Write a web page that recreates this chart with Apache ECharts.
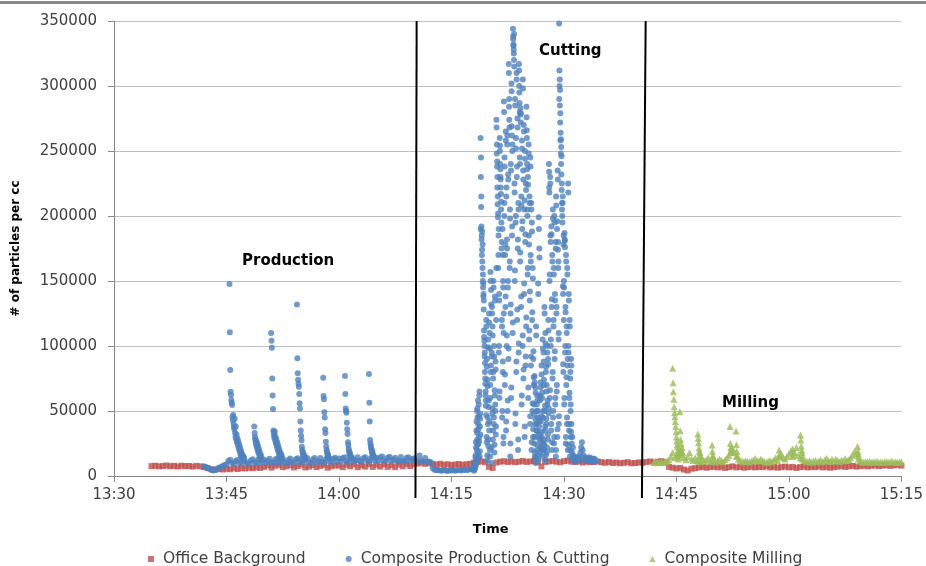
<!DOCTYPE html>
<html><head><meta charset="utf-8">
<script src="https://cdn.jsdelivr.net/npm/echarts@6/dist/echarts.min.js"></script>
<style>html,body{margin:0;padding:0;background:#fff}#c{width:926px;height:566px}</style>
</head><body><div id="c"></div>
<script>
// Times are minutes after midnight (810 = 13:30). Values are in thousands of particles per cc.
const xTickLabels = ['13:30','13:45','14:00','14:15','14:30','14:45','15:00','15:15'];
const seriesNames = ['Office Background','Composite Production & Cutting','Composite Milling'];

// Office Background: from 13:35, one reading every 0.5 min
const bgStart = 815, bgStep = 0.5;
const bgValues = [
 7.6,7.9,7.4,7.7,8.1,7.5,7.8,7.3,7.9,7.6,7.7,7.2,7.8,7.4,
 6.8,6.0,5.2,4.8,5.4,5.0,
 5.6,5.2,6.0,5.4,6.2,5.8,6.4,6.0,6.6,6.2,
 7.0,8.2,6.4,7.8,8.6,6.8,7.4,8.4,6.6,7.6,8.8,6.6,7.2,8.4,6.8,7.8,8.6,6.4,7.4,8.2,
 8.0,6.8,8.8,7.4,9.0,6.8,8.2,7.2,9.2,7.0,8.6,7.2,9.0,7.0,8.4,6.8,8.8,7.4,9.2,7.6,
 9.0,9.6,10.2,9.4,10.0,9.2,8.8,9.4,8.6,9.0,8.4,8.8,9.2,8.6,9.0,9.4,
 10.2,10.8,11.2,10.6,7.0,6.2,10.4,11.0,11.4,10.8,11.2,10.6,11.0,11.6,10.8,11.2,11.4,10.6,7.4,10.8,11.2,11.6,11.0,10.6,11.4,11.8,11.0,10.8,11.2,10.4,11.0,10.6,10.8,11.2,
 10.6,10.2,10.8,10.0,10.4,9.8,10.2,10.6,9.8,10.0,10.4,10.2,
 10.8,11.2,10.4,11.0,11.4,10.6,
 7.0,6.4,5.8,6.2,5.0,4.2,5.6,6.0,
 6.6,7.0,6.4,6.8,7.2,6.6,7.0,6.2,6.8,7.4,6.6,7.0,6.4,6.8,7.2,6.6,7.0,6.8,7.4,6.6,7.0,6.4,6.8,7.2,6.6,7.0,6.2,6.8,7.2,6.6,7.0,6.8,7.4,6.6,7.0,6.4,6.8,7.2,7.6,7.0,7.4,7.8,7.2,7.6,8.0,7.4,7.8,8.2,7.6,8.0,8.4,7.8,8.2,8.6,8.0
];

// Composite Production: baseline from 13:42, one reading every 0.25 min
const prodBaseStart = 822, prodBaseStep = 0.25;
const prodBaseValues = [
 7.5,7.0,6.2,5.5,4.6,4.2,4.8,5.6,6.4,7.0,7.6,8.4,
 9.0,11.5,12.5,10.0,9.4,11.8,12.4,9.6,10.2,12.6,11.2,9.4,10.0,12.0,12.8,9.8,10.8,12.8,10.2,11.6,
 12.6,10.0,11.8,13.2,10.4,9.8,12.8,13.0,10.2,11.0,13.2,10.6,9.8,12.4,13.4,10.6,10.4,12.8,13.6,10.8,
 12.8,10.4,12.8,13.8,10.6,10.2,12.6,13.8,10.6,11.6,13.8,11.0,10.4,13.0,13.8,11.0,10.8,13.2,14.0,11.2,
 13.4,11.0,13.6,14.4,11.4,10.8,13.4,14.2,11.2,12.0,14.4,11.6,11.0,13.6,14.4,11.8,11.2,13.8,14.6,11.8,
 14.0,11.6,14.2,15.0,12.0,11.4,14.0,14.8,11.8,12.6,14.0,11.2,11.8,14.6,11.6,11.2,13.8,14.4,11.6,12.8,
 13.6,12.2,11.4,15.8,12.0,11.2,13.8,11.0,11.2,10.5,6.0,4.8,4.4,4.6,4.2,4.0,4.6,4.2,3.8,4.4,
 4.2,4.6,4.0,4.4,4.8,4.2,4.6,5.0,4.4,4.8,5.4,5.0,6.0
];

// Short bursts: readings every 0.05 min from each start time
const spikeStep = 0.05;
const prodSpikeStarts = [825.4, 828.7, 830.95, 834.4, 837.9, 840.8, 844.0];
const prodSpikeValues = [
 [147.7,110.5,81.5,64.8,62.3,58.5,56.4,54.6,45.3,42.8,47,40.2,37.7,35.9,44,33,30,38,28,32,26,29,24,27,22,25,20,23,18,21,16,19,15,17,14,16,13,15,12.5,14],
 [38,33,30,28,26,24,27,22,25,20,23,18,21,17,19,15,17,14,16,13],
 [110,104,98.7,75,62,51.5,35,33,31,29,34,27,30,25,28,23,26,21,24,19,22,17,20,16,18,15,17,14,16,13],
 [132,90.5,79,74,71,68.7,63,56,52,42,35,31,27.5,22.5,20,18.7,17,15.5,16.5,14.5,15.5,13.6],
 [75.6,61.5,59,49,45,36,33,26.4,22.5,20,18.7,17,15.5,16.5,14.5,13.6],
 [77,63,52,50,48.7,41,36,32.3,26,23.8,21,19,17,18,16,15,14.5],
 [78.5,56.4,42,27.7,25,23,21.3,20,18,19,17,16,15,14]
];

// Cutting: from 14:18, one reading every 0.04 min
const cutStart = 858, cutStep = 0.04;
const cutValues = [
 5,6,7,6,9,14,8,22,35,12,50,28,45,18,40,25,55,30,62,15,38,48,260,230,207,
 192,185,174,165,178,155,148,140,135,107,100,95,87,71,65,58,120,30,84,12,69,45,99,23,53,
 125,35,110,20,60,157,80,143,10,92,130,48,115,28,75,150,40,100,18,66,138,55,88,32,120,
 274,248,238,222,209,199,160,185,95,140,60,260,254,236,228,217,211,175,120,45,190,80,150,25,110,
 288,200,245,70,170,130,265,35,215,100,182,255,50,145,232,90,317,284,274,160,205,15,125,240,60,
 302,269,185,250,110,344,336,331,325,340,225,150,290,40,195,260,80,310,230,120,275,175,20,210,95,
 317,300,287,245,165,283,279,130,215,55,258,190,100,305,235,75,270,140,205,30,250,180,85,225,115,
 284,266,240,200,155,230,60,255,185,105,215,135,40,245,170,85,210,20,195,120,50,160,30,90,70,
 55,25,77,15,40,68,10,115,35,50,20,62,30,45,148,12,199,38,175,28,58,18,72,42,22,
 85,30,60,15,105,45,25,95,70,20,130,50,35,110,12,80,40,65,18,100,55,28,90,120,48,
 240,222,150,60,230,185,100,35,192,130,20,170,75,205,45,115,160,25,200,90,140,55,180,15,215,
 125,65,190,30,235,174,160,105,40,348,312,305,297,279,264,259,253,246,225,210,195,215,140,80,185,
 150,55,187,181,95,130,25,170,70,115,40,160,85,20,225,100,140,35,60,120,15,75,50,30,90,
 40,25,18,30,14,22,16,12,14,12
];
// Cutting, interleaved readings: from 14:18.02, one every 0.04 min
const cutStartB = 858.02;
const cutValuesB = [
 4,7,5,10,8,16,26,11,42,20,33,52,24,58,36,14,46,27,65,19,44,32,190,245,215,
 182,170,188,160,150,145,138,128,112,104,92,80,75,62,54,47,115,26,90,16,74,40,105,28,58,
 118,42,98,15,70,150,85,132,22,95,125,52,108,35,80,145,45,92,24,62,135,50,82,38,160,
 268,255,242,230,215,202,170,190,100,135,65,250,240,230,222,205,195,180,115,50,170,88,145,30,125,
 280,210,238,78,178,138,258,42,222,108,175,262,58,150,228,98,310,290,268,165,198,25,132,235,68,
 296,262,192,255,118,338,332,328,320,315,218,158,285,48,200,252,88,305,238,128,268,182,28,205,102,
 312,295,280,240,172,278,272,138,208,62,252,196,108,298,228,82,265,148,212,38,244,186,92,220,122,
 276,260,236,205,160,224,68,248,178,112,210,142,46,238,165,92,205,26,188,126,56,152,36,96,76,
 48,30,72,18,44,64,14,108,40,55,24,58,34,50,140,16,190,42,168,32,62,22,68,46,26,
 78,34,64,20,98,50,28,88,74,24,125,54,38,102,16,84,44,70,22,95,58,32,86,112,52,
 234,218,155,66,225,180,105,40,186,136,26,165,80,198,50,120,155,30,195,96,135,60,175,20,208,
 130,70,196,36,228,180,165,110,46,290,300,285,272,258,248,240,232,220,205,200,210,146,86,178,120,
 145,60,182,176,100,126,30,165,76,110,45,155,90,24,218,95,135,40,64,115,20,80,55,34,85
];
// After cutting: from 14:31.4, one reading every 0.1 min
const cutTailStart = 871.4, cutTailStep = 0.1;
const cutTailValues = [13,11,14.5,12,13.5,15,14,12.5,18,22,26,20,16,14,12.5,11.5,14,11.5,13.5,12,14.5,11.5,13.5,12,11.5,13.5,11,13,12,11.5];

// Composite Milling: baseline from 14:42, one reading every 0.25 min
const millBaseStart = 882, millBaseStep = 0.25;
const millBaseValues = [
 10.5,11.0,10.2,10.8,11.2,10.4,11.0,11.6,
 12.5,15,18,14,16,13,17,19,14,12.5,15,18,13,12,14,11.5,
 12,11,13,11.5,12.5,14,11,12,11.5,10.8,11.6,13,12,11,12.5,14,
 16,19,21,18,15,13,12,11.5,11,12,11.2,10.8,11.6,12.4,13.5,12,
 11.5,13,12,11,10.6,11.4,12,11,12.5,14,12,15,17,14,13,15,
 17,19,15,18,22,16,14,13,12,11.5,11,12,10.8,11.4,12,11,
 11.5,12.5,11,12,13.5,12,11.4,12.8,11.6,13,12,11.2,12.4,11.8,13.2,12,
 12.6,14,16,19,17,13,11.5,11,10.6,11.2,10.8,11.4,10.5,11,10.8,11.2,
 10.6,11,10.4,10.8,11.2,10.5,10.9,11.3,10.6,11,10.4,10.8,11
];
const millSpikeStarts = [884.5, 885.45, 887.85, 889.75, 892.15, 892.95, 898.7, 900.5, 901.55, 909.15];
const millSpikeValues = [
 [82.8,71.8,64.9,59,53.3,48.7,45.6,42,38,34,30,27,24,22.5,20,18,16.5,15],
 [49.5,34.9,28,25,20,17,22,18],
 [32.3,29,25.6,21.5,19,16,18,15],
 [23.8,19,16,15],
 [38,25,22,20,18],
 [34.6,24,19,16],
 [20,17,15],
 [21,18,16],
 [31.5,27.7,23,20,18,16],
 [22.6,19,17,15]
];

// Hand-drawn phase dividers: [time at bottom, time at top]
const dividerTimes = [[850.2, 850.36], [880.4, 880.9]];
const dividerRange = [-17, 350]; // thousands

function run(start, step, vals) { return vals.map((v, i) => [start + i * step, v * 1000]); }
function bursts(starts, lists) { let out = []; starts.forEach((s, k) => { out = out.concat(run(s, spikeStep, lists[k])); }); return out; }

const bgData = run(bgStart, bgStep, bgValues);
const blueData = run(prodBaseStart, prodBaseStep, prodBaseValues)
  .concat(bursts(prodSpikeStarts, prodSpikeValues))
  .concat(run(cutStart, cutStep, cutValues))
  .concat(run(cutStartB, cutStep, cutValuesB))
  .concat(run(cutTailStart, cutTailStep, cutTailValues));
const greenData = run(millBaseStart, millBaseStep, millBaseValues).concat(bursts(millSpikeStarts, millSpikeValues));

const FONT = 'DejaVu Sans';
const chart = echarts.init(document.getElementById('c'), null, {renderer: 'canvas'});
const dividerSeries = dividerTimes.map(d => ({
  type: 'line', silent: true, clip: false, symbol: 'none', z: 5,
  lineStyle: {color: '#000', width: 2},
  data: [[d[0], dividerRange[0] * 1000], [d[1], dividerRange[1] * 1000]]
}));

chart.setOption({
  animation: false,
  backgroundColor: '#fff',
  grid: {left: 114, right: 24, top: 21, bottom: 90, containLabel: false},
  xAxis: {
    type: 'value', min: 810, max: 915, interval: 15,
    name: 'Time', nameLocation: 'middle', nameGap: 47,
    nameTextStyle: {fontFamily: FONT, fontWeight: 'bold', fontSize: 13, color: '#000', padding: [0, 34, 0, 0]},
    axisLine: {show: true, onZero: false, lineStyle: {color: '#868686', width: 1}},
    axisTick: {show: true, length: 6, lineStyle: {color: '#868686'}},
    axisLabel: {margin: 12, fontFamily: FONT, fontSize: 15, color: '#404040',
      formatter: v => xTickLabels[Math.round((v - 810) / 15)]},
    splitLine: {show: false}
  },
  yAxis: {
    type: 'value', min: 0, max: 350000, interval: 50000,
    name: '# of particles per cc', nameLocation: 'middle', nameGap: 92,
    nameTextStyle: {fontFamily: FONT, fontWeight: 'bold', fontSize: 12, color: '#000'},
    axisLine: {show: true, lineStyle: {color: '#868686', width: 1}},
    axisTick: {show: true, length: 6, lineStyle: {color: '#868686'}},
    axisLabel: {margin: 17, fontFamily: FONT, fontSize: 15, color: '#404040', formatter: v => String(v)},
    splitLine: {show: true, lineStyle: {color: '#bfbfbf', width: 1}}
  },
  legend: {
    data: [{name: seriesNames[0], icon: 'rect'}, {name: seriesNames[1], icon: 'circle'}, {name: seriesNames[2], icon: 'triangle'}],
    left: 143, top: 546, itemGap: 40, itemWidth: 6, itemHeight: 6,
    textStyle: {fontFamily: FONT, fontSize: 15.5, color: '#404040', padding: [0, 0, 0, 4]}
  },
  graphic: [
    {type: 'rect', shape: {x: 0, y: 1, width: 926, height: 3}, style: {fill: '#8a8a8a'}, silent: true},
    {type: 'text', left: 290 - 48, top: 254, style: {text: 'Production', font: 'bold 15px ' + FONT, fill: '#000'}},
    {type: 'text', left: 570 - 31, top: 44, style: {text: 'Cutting', font: 'bold 15px ' + FONT, fill: '#000'}},
    {type: 'text', left: 752 - 30, top: 396, style: {text: 'Milling', font: 'bold 15px ' + FONT, fill: '#000'}}
  ],
  series: [
    {name: seriesNames[0], type: 'scatter', symbol: 'rect', symbolSize: [6, 6], itemStyle: {color: '#C0504D'}, data: bgData, z: 2},
    {name: seriesNames[1], type: 'scatter', symbol: 'circle', symbolSize: 6, itemStyle: {color: '#4F81BD'}, data: blueData, z: 3},
    {name: seriesNames[2], type: 'scatter', symbol: 'triangle', symbolSize: 7, itemStyle: {color: '#9BBB59'}, data: greenData, z: 4}
  ].concat(dividerSeries)
});
</script>
</body></html>
